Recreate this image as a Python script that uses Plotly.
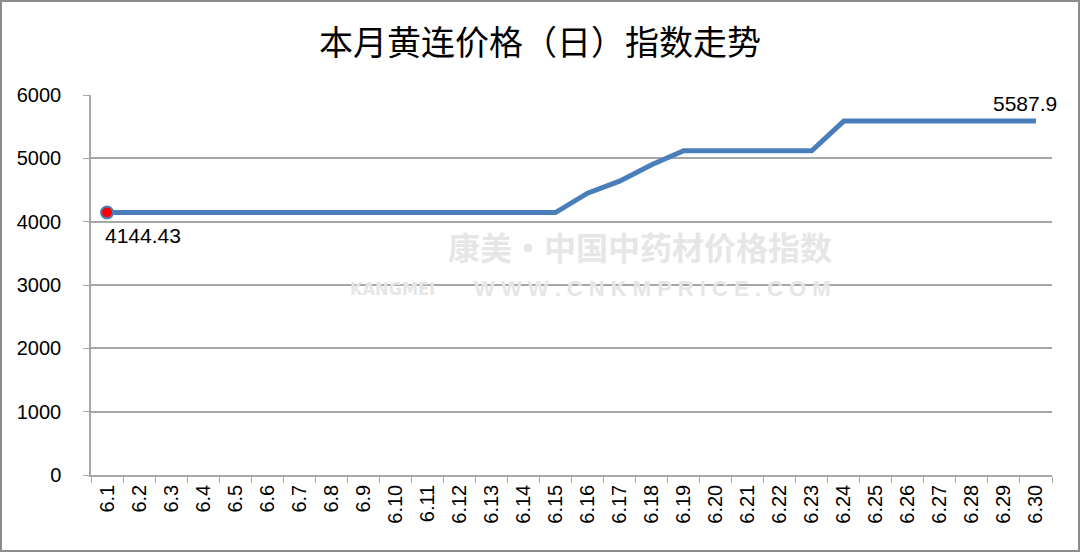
import plotly.graph_objects as go

dates = ["6.%d" % d for d in range(1, 31)]
values = [4144.43] * 15 + [4450, 4640, 4900, 5120, 5120, 5120, 5120, 5120] + [5587.9] * 7
y_ticks = [0, 1000, 2000, 3000, 4000, 5000, 6000]
title_text = "本月黄连价格（日）指数走势"
first_label = "4144.43"
last_label = "5587.9"

W, H = 1080, 552
L, R, T, B = 91, 28, 95, 77
pw, ph = W - L - R, H - T - B

fig = go.Figure()
fig.add_trace(go.Scatter(
    x=dates, y=values, mode="lines",
    line=dict(color="#4a7ebb", width=5), hoverinfo="skip", showlegend=False))
fig.add_trace(go.Scatter(
    x=[dates[0]], y=[values[0]], mode="markers",
    marker=dict(color="#ff0000", size=12, line=dict(color="#4a7ebb", width=2)),
    hoverinfo="skip", showlegend=False))

grey = "#a6a6a6"
fig.update_layout(
    width=W, height=H,
    margin=dict(l=L, r=R, t=T, b=B, autoexpand=False),
    paper_bgcolor="white", plot_bgcolor="white",
    title=dict(text=title_text, x=0.5, xanchor="center", y=1 - 43 / H, yanchor="middle",
               font=dict(family="Noto Sans CJK SC", size=34, color="#000000")),
    xaxis=dict(
        type="category", tickangle=-90, tickson="boundaries", automargin=False,
        ticks="outside", ticklen=6, tickcolor=grey,
        showline=True, linecolor=grey, linewidth=1.5, showgrid=False,
        tickfont=dict(family="Liberation Sans", size=20, color="#000000"),
        range=[-0.5, len(dates) - 0.5]),
    yaxis=dict(
        range=[0, 6000], tickvals=y_ticks, ticks="outside", ticklen=6, tickcolor=grey,
        automargin=False,
        showline=True, linecolor=grey, linewidth=1.5,
        showgrid=True, gridcolor=grey, gridwidth=1.5, zeroline=False,
        ticklabelstandoff=18,
        tickfont=dict(family="Liberation Sans", size=20, color="#000000")),
    font=dict(family="Liberation Sans"),
)

# watermark
wm = "#e6e6e6"
fig.add_annotation(x=(640 - L) / pw, y=(475 - 246) / ph, xref="paper", yref="paper",
                   text="<b>康美·中国中药材价格指数</b>", showarrow=False,
                   font=dict(family="Noto Sans CJK SC", size=32, color=wm))
fig.add_annotation(x=(437 - L) / pw, y=(475 - 288) / ph, xref="paper", yref="paper",
                   xanchor="right",
                   text="<b>KANGMEI</b>", showarrow=False,
                   font=dict(family="DejaVu Sans Condensed, Liberation Sans", size=18, color=wm))
fig.add_annotation(x=(832 - L) / pw, y=(475 - 288) / ph, xref="paper", yref="paper",
                   xanchor="right",
                   text="<b>W W W . C N K M P R I C E . C O M</b>", showarrow=False,
                   font=dict(family="Liberation Sans", size=22, color=wm))

# data labels (positions by category index)
i0, i1 = 0, len(dates) - 1
fig.add_annotation(x=i0, y=values[i0], text=first_label, showarrow=False,
                   xanchor="left", yanchor="middle", xshift=-4, yshift=-23,
                   font=dict(family="Liberation Sans", size=21, color="#000000"))
fig.add_annotation(x=i1, y=values[i1], text=last_label, showarrow=False,
                   xanchor="center", yanchor="middle", xshift=-11, yshift=18,
                   font=dict(family="Liberation Sans", size=21, color="#000000"))

# outer frame
fig.add_shape(type="rect", xref="paper", yref="paper",
              x0=(1 - L) / pw, x1=(W - 1 - L) / pw,
              y0=(T + ph - (H - 1)) / ph, y1=(T + ph - 1) / ph,
              line=dict(color="#8c8c8c", width=2), fillcolor="rgba(0,0,0,0)", layer="below")

fig.write_html("out.html", config={"displayModeBar": False},
               post_script="document.body.style.margin='0';document.body.style.overflow='hidden';")
